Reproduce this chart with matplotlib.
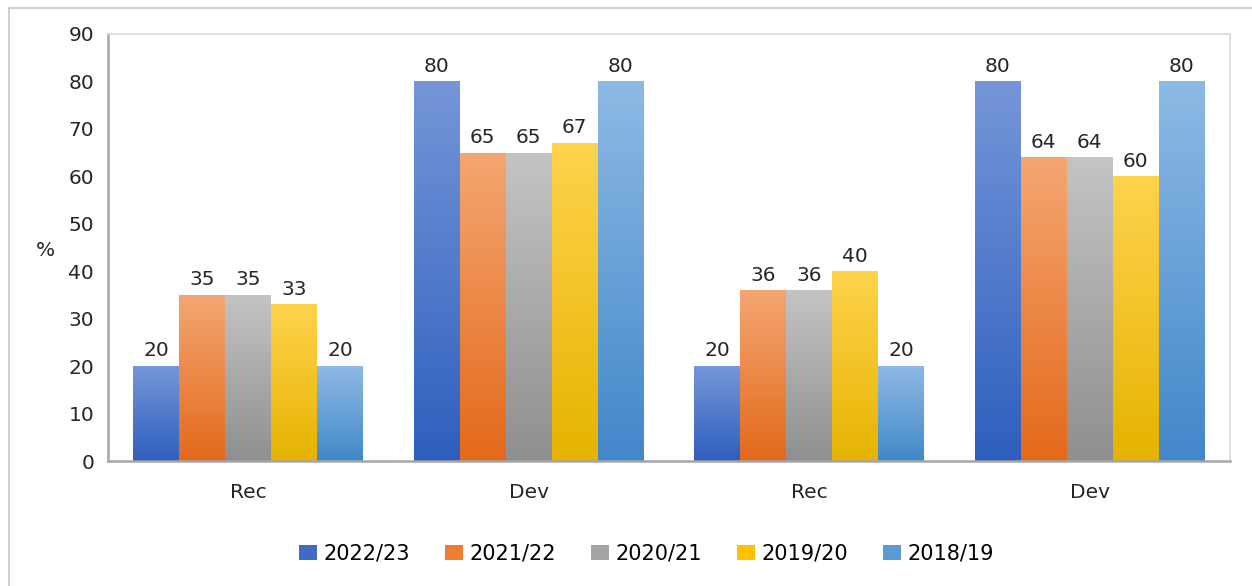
import numpy as np
import matplotlib.pyplot as plt
from matplotlib.colors import LinearSegmentedColormap
from matplotlib.lines import Line2D
from matplotlib.patches import Rectangle

plt.rcParams['font.family'] = ['DejaVu Sans']

# categories and series
categories = ['Rec', 'Dev', 'Rec', 'Dev']
series = ['2022/23', '2021/22', '2020/21', '2019/20', '2018/19']
v_2022_23 = [20, 80, 20, 80]
v_2021_22 = [35, 65, 36, 64]
v_2020_21 = [35, 65, 36, 64]
v_2019_20 = [33, 67, 40, 60]
v_2018_19 = [20, 80, 20, 80]
values = [v_2022_23, v_2021_22, v_2020_21, v_2019_20, v_2018_19]

# gradient colours per series: (top, bottom)
grads = [('#7596d8', '#2e5fbe'),
         ('#f4a672', '#e4691b'),
         ('#c4c4c4', '#8f8f8f'),
         ('#ffd34d', '#e6b300'),
         ('#8dbae4', '#4287ca')]
legend_cols = ['#3f6bc6', '#ed7d31', '#a5a5a5', '#ffc000', '#5b9bd5']

FS = 14.5
TXT = '#262626'

fig = plt.figure(figsize=(12.52, 5.86), dpi=100)
ax = fig.add_axes([0.0863, 0.2133, 0.8961, 0.7287])

# thin border around the chart area
fig.add_artist(Line2D([0.007, 0.007], [0.0, 0.986], color='#c8c8c8', lw=1.2,
                      transform=fig.transFigure))
fig.add_artist(Line2D([0.007, 1.0], [0.986, 0.986], color='#c8c8c8', lw=1.2,
                      transform=fig.transFigure))

x = np.arange(len(categories))
w = 0.164
grad = np.linspace(1, 0, 256).reshape(-1, 1)

for i, (vals, (top, bot)) in enumerate(zip(values, grads)):
    cmap = LinearSegmentedColormap.from_list(series[i], [bot, top])
    offs = (i - 2) * w
    for xi, v in zip(x, vals):
        left = xi + offs - w / 2
        rect = Rectangle((left, 0), w, v, facecolor='none', edgecolor='none')
        ax.add_patch(rect)
        im = ax.imshow(grad, extent=(left, left + w, 0, v), aspect='auto',
                       cmap=cmap, vmin=0, vmax=1, origin='upper', zorder=2)
        im.set_clip_path(rect)
        ax.text(xi + offs, v + 1.2, str(v), ha='center', va='bottom',
                fontsize=FS, color=TXT)

ax.set_xlim(-0.5, 3.5)
ax.set_ylim(0, 90)
ax.set_yticks(range(0, 91, 10))
ax.set_xticks(x)
ax.set_xticklabels(categories)
ax.tick_params(axis='both', length=0, labelsize=FS, colors=TXT)
ax.tick_params(axis='y', pad=10)
ax.tick_params(axis='x', pad=16)
ax.set_ylabel('%', rotation=0, fontsize=FS, color=TXT, va='center')
ax.yaxis.set_label_coords(-0.056, 0.494)

for s in ['top', 'right']:
    ax.spines[s].set_color('#d9d9d9')
    ax.spines[s].set_linewidth(1.2)
for s in ['left', 'bottom']:
    ax.spines[s].set_color('#a6a6a6')
    ax.spines[s].set_linewidth(1.8)

handles = [Rectangle((0, 0), 1, 1, facecolor=c) for c in legend_cols]
ax.legend(handles, series, loc='upper center', bbox_to_anchor=(0.48, -0.15),
          ncol=5, frameon=False, fontsize=15, handlelength=0.86,
          handleheight=0.72, handletextpad=0.3, columnspacing=1.7)

fig.savefig('out.png', dpi=100)
